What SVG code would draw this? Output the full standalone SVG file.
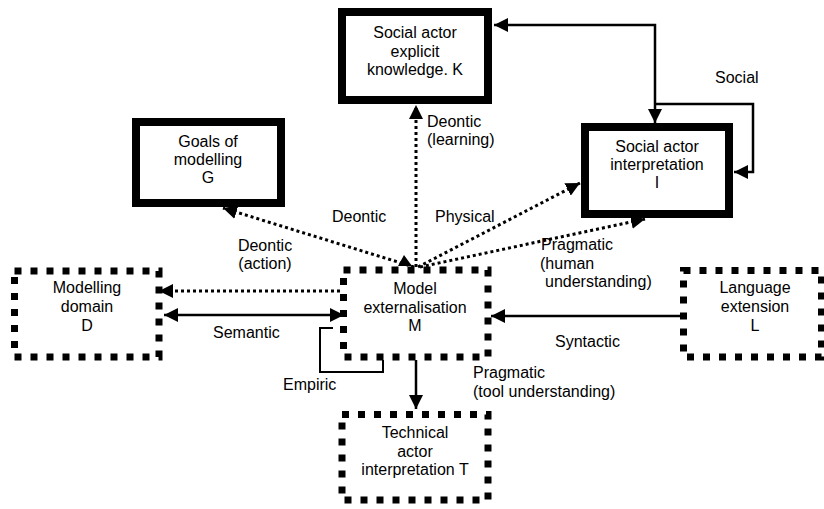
<svg xmlns="http://www.w3.org/2000/svg" width="824" height="509" viewBox="0 0 824 509">
<style>
text{font-family:"Liberation Sans",Arial,sans-serif;font-size:16px;fill:#000}
.c{text-anchor:middle}
.thick{fill:#fff;stroke:#000;stroke-width:8}
.dotbox{fill:#fff;stroke:#000;stroke-width:7;stroke-dasharray:7 9}
.solid{fill:none;stroke:#000;stroke-width:2.5}
.dot{fill:none;stroke:#000;stroke-width:3;stroke-dasharray:3 3}
</style>
<defs>
<marker id="ah" markerUnits="userSpaceOnUse" markerWidth="14" markerHeight="14" viewBox="0 0 14 14" refX="14" refY="7" orient="auto-start-reverse">
<path d="M0,0 L14,7 L0,14 z" fill="#000"/>
</marker>
</defs>
<rect width="824" height="509" fill="#fff"/>
<g id="connectors">
<path class="solid" d="M494,25 H655 V123" marker-start="url(#ah)" marker-end="url(#ah)"/>
<path class="solid" d="M655,104 H753 V172 H734" marker-end="url(#ah)"/>
<path class="dot" d="M416,267 V105" marker-end="url(#ah)"/>
<path class="dot" d="M414,267 L223,208" marker-end="url(#ah)"/>
<polygon points="404,255 398,266 412,266" fill="#000"/>
<path class="dot" d="M418,267 L580,183" marker-end="url(#ah)"/>
<path class="dot" d="M420,267 L645,219" marker-end="url(#ah)"/>
<path class="dot" d="M340,291 H159" marker-end="url(#ah)"/>
<path class="solid" d="M164,315 H344" marker-start="url(#ah)" marker-end="url(#ah)"/>
<path fill="none" stroke="#000" stroke-width="2" d="M333,328 H320 V372 H383 V360"/>
<path class="solid" d="M680,316 H491" marker-end="url(#ah)"/>
<path class="solid" d="M416,360 V409" marker-end="url(#ah)"/>
</g>
<g id="labels">
<text x="715" y="83">Social</text>
<text x="427" y="127">Deontic</text>
<text x="427" y="145">(learning)</text>
<text x="332" y="222">Deontic</text>
<text x="435" y="222">Physical</text>
<text x="265" y="251" class="c">Deontic</text>
<text x="265" y="269" class="c">(action)</text>
<text x="541" y="250">Pragmatic</text>
<text x="540" y="268.5">(human</text>
<text x="545" y="287">understanding)</text>
<text x="213" y="338">Semantic</text>
<text x="283" y="390">Empiric</text>
<text x="555" y="347">Syntactic</text>
<text x="473" y="378">Pragmatic</text>
<text x="473" y="397">(tool understanding)</text>
</g>
<g id="nodeK">
<rect class="thick" x="342" y="12" width="146" height="88"/>
<text x="415" y="38" class="c">Social actor</text>
<text x="415" y="56.5" class="c">explicit</text>
<text x="415" y="75" class="c">knowledge. K</text>
</g>
<g id="nodeI">
<rect class="thick" x="585" y="127" width="144" height="87"/>
<text x="657" y="152" class="c">Social actor</text>
<text x="657" y="170" class="c">interpretation</text>
<text x="657" y="188" class="c">I</text>
</g>
<g id="nodeG">
<rect class="thick" x="136" y="122" width="145" height="81"/>
<text x="208" y="147" class="c">Goals of</text>
<text x="208" y="165" class="c">modelling</text>
<text x="208" y="183" class="c">G</text>
</g>
<g id="nodeD">
<rect class="dotbox" x="14.5" y="271" width="144.5" height="86"/>
<text x="87" y="293" class="c">Modelling</text>
<text x="87" y="312" class="c">domain</text>
<text x="87" y="331" class="c">D</text>
</g>
<g id="nodeM">
<rect class="dotbox" x="343.5" y="270" width="144.5" height="87" fill="none" style="fill:none"/>
<text x="415" y="294" class="c">Model</text>
<text x="415" y="312.5" class="c">externalisation</text>
<text x="415" y="331" class="c">M</text>
</g>
<g id="nodeL">
<rect class="dotbox" x="683.5" y="270.5" width="138" height="86.5"/>
<text x="755" y="293" class="c">Language</text>
<text x="755" y="312" class="c">extension</text>
<text x="755" y="331" class="c">L</text>
</g>
<g id="nodeT">
<rect class="dotbox" x="342" y="414.5" width="146" height="85.5"/>
<text x="415" y="438" class="c">Technical</text>
<text x="415" y="457" class="c">actor</text>
<text x="415" y="475" class="c">interpretation T</text>
</g>
</svg>
